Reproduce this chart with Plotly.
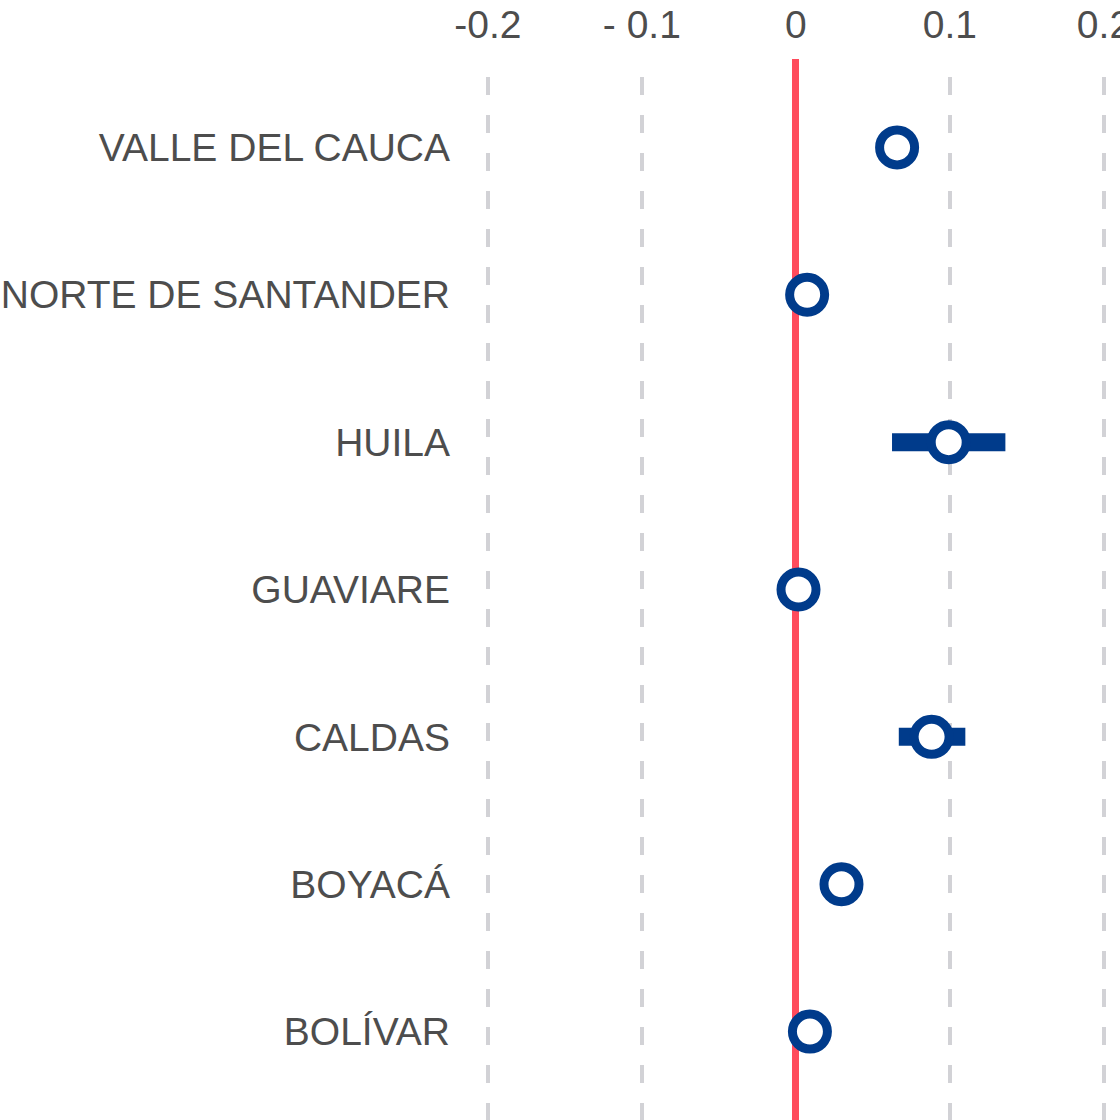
import plotly.graph_objects as go

# Data (top to bottom in the reference)
departments = ["VALLE DEL CAUCA", "NORTE DE SANTANDER", "HUILA", "GUAVIARE",
               "CALDAS", "BOYACÁ", "BOLÍVAR"]
estimate = [0.0657, 0.0073, 0.0992, 0.0017, 0.0881, 0.0296, 0.0091]
ci_low = [0.0600, 0.0020, 0.0624, -0.0030, 0.0668, 0.0250, 0.0040]
ci_high = [0.0710, 0.0120, 0.1360, 0.0060, 0.1100, 0.0340, 0.0140]

tick_vals = [-0.2, -0.1, 0, 0.1, 0.2]
tick_text = ["-0.2", "- 0.1", "0", "0.1", "0.2"]

BLUE = "#003B8B"
RED = "#FF4B5C"
GRID = "#D2D2D6"
TEXT = "#4D4D4D"
FONT = "Liberation Sans, Arial, Helvetica, sans-serif"

err_plus = [h - e for h, e in zip(ci_high, estimate)]
err_minus = [e - l for e, l in zip(estimate, ci_low)]

fig = go.Figure()
fig.add_trace(go.Scatter(
    x=estimate,
    y=departments,
    mode="markers",
    error_x=dict(type="data", symmetric=False, array=err_plus, arrayminus=err_minus,
                 color=BLUE, thickness=18, width=0),
    marker=dict(symbol="circle", size=35, color="white",
                line=dict(color=BLUE, width=9)),
    showlegend=False,
    hoverinfo="x+y",
))

fig.update_layout(
    width=1120, height=1120,
    margin=dict(l=457, r=0, t=59, b=0),
    paper_bgcolor="white",
    plot_bgcolor="white",
    font=dict(family=FONT, size=39, color=TEXT),
    xaxis=dict(
        side="top",
        range=[-0.22, 0.2104],
        tickvals=tick_vals,
        ticktext=tick_text,
        tickfont=dict(family=FONT, size=39, color=TEXT),
        ticklabeloverflow="allow",
        automargin=False,
        showgrid=True,
        gridcolor=GRID,
        gridwidth=4,
        griddash="0px,18px,18px,2px",
        zeroline=True,
        zerolinecolor=RED,
        zerolinewidth=7,
        showline=False,
        ticks="",
        ticklabelstandoff=12,
    ),
    yaxis=dict(
        type="category",
        categoryorder="array",
        categoryarray=departments[::-1],
        range=[-0.6, 6.6],
        automargin=False,
        showgrid=False,
        zeroline=False,
        showline=False,
        ticks="",
        tickfont=dict(family=FONT, size=39, color=TEXT),
        ticklabelstandoff=6,
    ),
)

fig.write_html("out.html")
